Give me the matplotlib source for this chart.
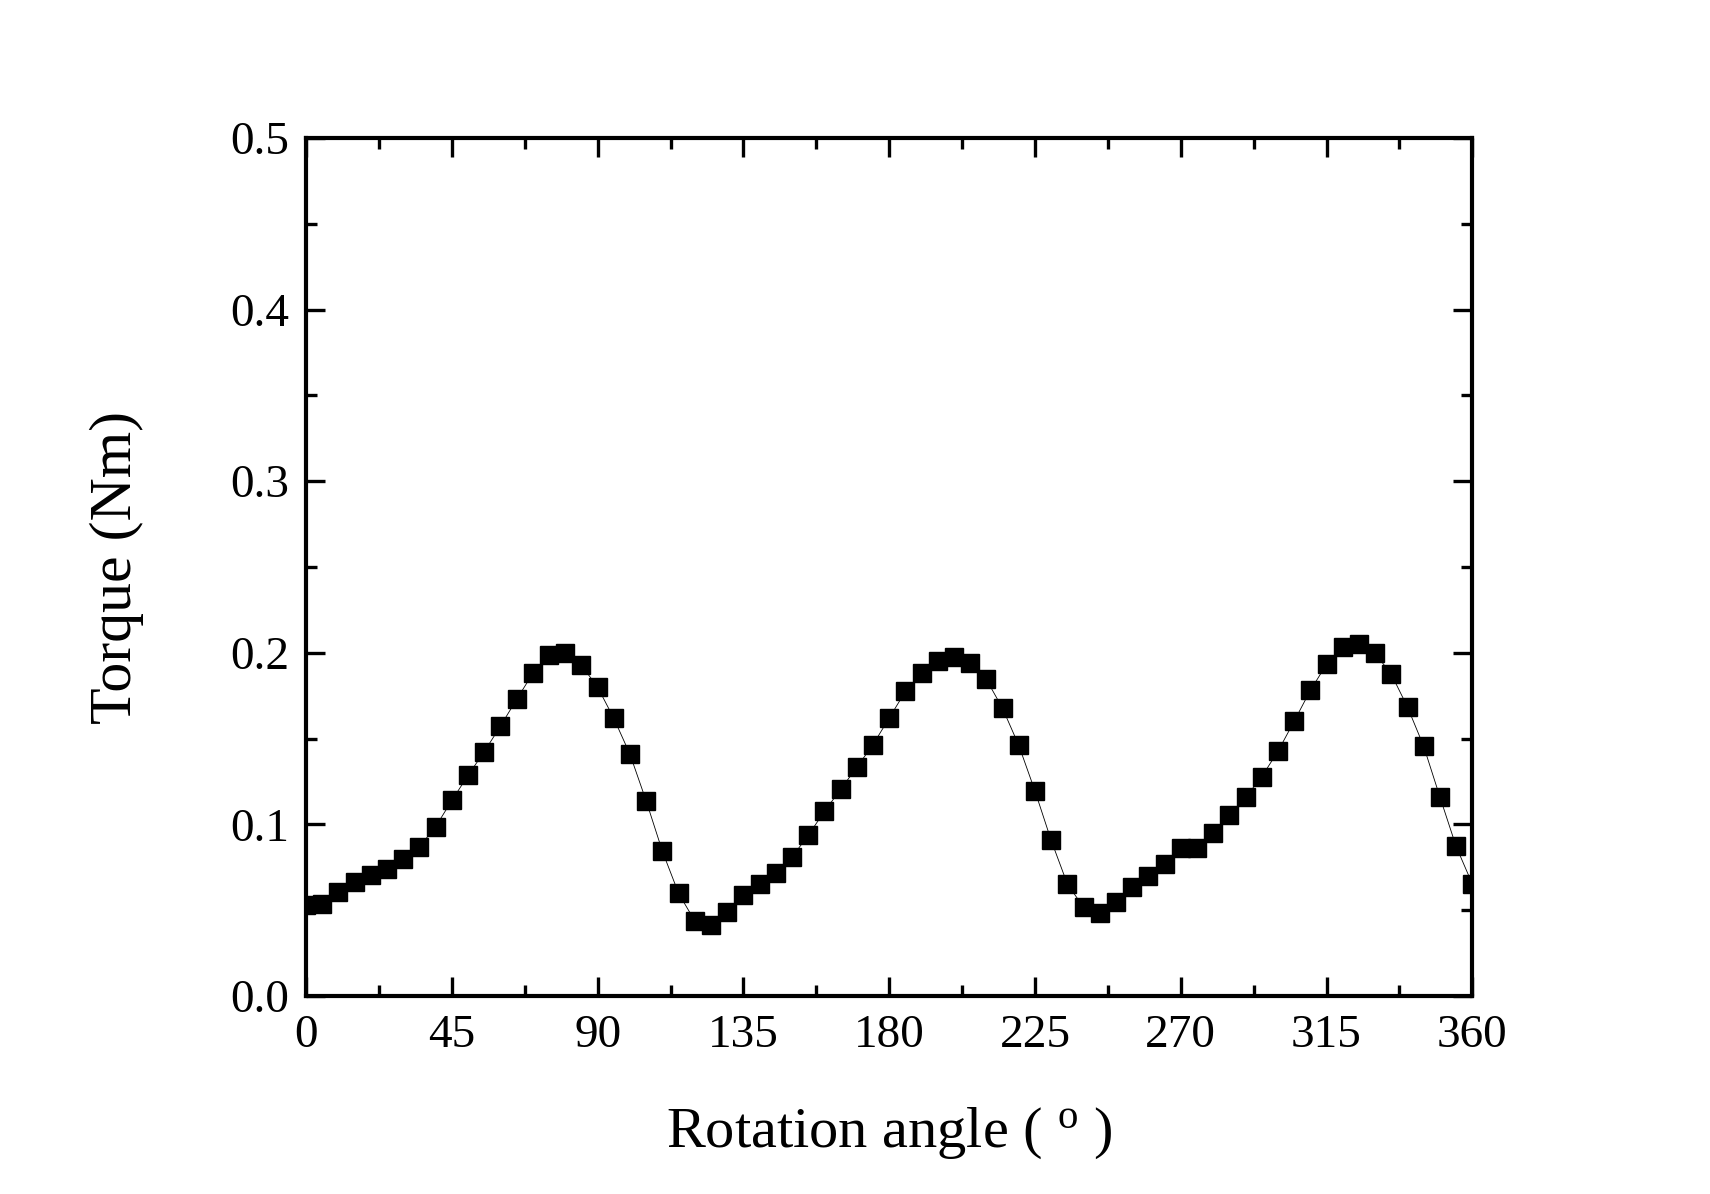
import matplotlib
matplotlib.use("Agg")
import matplotlib.pyplot as plt
from matplotlib.ticker import MultipleLocator

angle = list(range(0, 361, 5))
torque = [0.053, 0.0536, 0.0606, 0.0663, 0.0705, 0.074, 0.080, 0.087, 0.0987, 0.114,
          0.1286, 0.1424, 0.1573, 0.1729, 0.188, 0.1985, 0.2001, 0.1927, 0.180, 0.1618,
          0.1408, 0.1136, 0.0843, 0.0598, 0.0437, 0.0416, 0.0491, 0.0589, 0.0653, 0.0715,
          0.081, 0.0936, 0.1076, 0.1204, 0.1333, 0.1465, 0.162, 0.1775, 0.1884, 0.1952,
          0.1974, 0.1941, 0.1845, 0.1676, 0.1461, 0.1195, 0.0907, 0.0653, 0.0517, 0.0484,
          0.0546, 0.0635, 0.0697, 0.0771, 0.0861, 0.0861, 0.0952, 0.1055, 0.1158, 0.1278,
          0.1426, 0.1601, 0.1781, 0.1933, 0.2032, 0.205, 0.1997, 0.1875, 0.1684, 0.1455,
          0.116, 0.0872, 0.0653]

x_ticks = [0, 45, 90, 135, 180, 225, 270, 315, 360]
y_ticks = [0.0, 0.1, 0.2, 0.3, 0.4, 0.5]

plt.rcParams['font.family'] = ['Liberation Serif', 'DejaVu Serif']
plt.rcParams['mathtext.fontset'] = 'custom'
plt.rcParams['mathtext.rm'] = 'Liberation Serif'
plt.rcParams['mathtext.it'] = 'Liberation Serif'

fig = plt.figure(figsize=(17.1, 11.94), dpi=100)
ax = fig.add_axes([0.179, 0.1658, 0.682, 0.7186])

ax.plot(angle, torque, color='black', lw=0.6, marker='s', markersize=13.5,
        markerfacecolor='black', markeredgecolor='black', clip_on=True)

ax.set_xlim(0, 360)
ax.set_ylim(0, 0.5)
ax.set_xticks(x_ticks)
ax.set_yticks(y_ticks)
ax.set_yticklabels([f"{v:.1f}" for v in y_ticks])
ax.xaxis.set_minor_locator(MultipleLocator(22.5))
ax.yaxis.set_minor_locator(MultipleLocator(0.05))

for s in ax.spines.values():
    s.set_linewidth(3)
ax.tick_params(which='both', direction='in', top=True, right=True, width=2.4,
               labelsize=34, pad=13)
ax.tick_params(which='major', length=14)
ax.tick_params(which='minor', length=8)
ax.tick_params(axis='y', pad=12)

ax.set_xlabel(r"Rotation angle ( $^{\mathrm{o}}$ )", fontsize=42, labelpad=35)
ax.set_ylabel("Torque (Nm)", fontsize=43, labelpad=62)

fig.savefig("out.png", dpi=100, facecolor='white')
